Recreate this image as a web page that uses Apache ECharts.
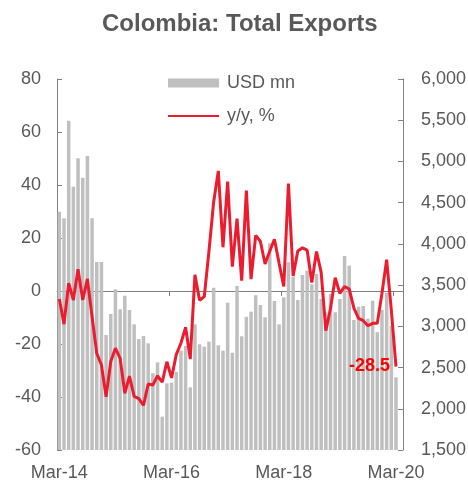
<!DOCTYPE html>
<html>
<head>
<meta charset="utf-8">
<script src="https://cdn.jsdelivr.net/npm/echarts@6/dist/echarts.min.js"></script>
<style>
html,body{margin:0;padding:0;background:#fff;}
#chart{width:468px;height:480px;}
</style>
</head>
<body>
<div id="chart"></div>
<script>
// Monthly categories Mar-14 .. Mar-20 (plus one empty slot at the axis end)
var months = [
 'Mar-14','Apr-14','May-14','Jun-14','Jul-14','Aug-14','Sep-14','Oct-14','Nov-14','Dec-14',
 'Jan-15','Feb-15','Mar-15','Apr-15','May-15','Jun-15','Jul-15','Aug-15','Sep-15','Oct-15','Nov-15','Dec-15',
 'Jan-16','Feb-16','Mar-16','Apr-16','May-16','Jun-16','Jul-16','Aug-16','Sep-16','Oct-16','Nov-16','Dec-16',
 'Jan-17','Feb-17','Mar-17','Apr-17','May-17','Jun-17','Jul-17','Aug-17','Sep-17','Oct-17','Nov-17','Dec-17',
 'Jan-18','Feb-18','Mar-18','Apr-18','May-18','Jun-18','Jul-18','Aug-18','Sep-18','Oct-18','Nov-18','Dec-18',
 'Jan-19','Feb-19','Mar-19','Apr-19','May-19','Jun-19','Jul-19','Aug-19','Sep-19','Oct-19','Nov-19','Dec-19',
 'Jan-20','Feb-20','Mar-20',''
];

// Total exports, USD mn (right axis)
var exportsUsd = [
 4390,4310,5495,4694,5038,4803,5066,4311,3780,3780,
 2895,3150,3449,3207,3372,3198,3024,2846,2883,2794,2430,2563,
 1904,2309,2317,2446,2705,2762,2260,3024,2782,2753,2814,3469,
 2770,2705,3287,2680,3489,2879,3117,3178,3376,3259,3110,4007,
 3307,3024,3352,3777,3602,3320,3623,3675,3510,3635,3332,3170,
 3392,3170,3332,3853,3736,3077,3239,3247,3093,3311,2930,3200,
 3408,3004,2382
];

// y/y change, % (left axis)
var yoyPct = [
 -3,-12.5,3,-3.4,8.2,-3.4,4.6,-9.7,-23.5,-27.9,
 -39.9,-26.6,-21.6,-25.4,-38.6,-32.1,-39.8,-40.6,-43.2,-35.1,-35.5,-32,
 -34.4,-26.7,-32.8,-24,-19.7,-13.7,-25.7,6.1,-3.5,-2.1,15,33.5,
 45.3,16.5,41.3,9.2,27.3,3.9,37.9,4.5,21,18.7,10.2,15,
 19.5,10.5,1.7,40.5,5.7,15.1,16.3,15.4,3.2,14.9,7,-15,
 -6.5,5,-0.9,1.7,0.7,-6.5,-10.3,-11.2,-13.1,-12.2,-12.2,-0.9,
 11.8,-7.1,-28.5
];

var leftTicks = {min: -60, max: 80, step: 20};
var rightTicks = {min: 1500, max: 6000, step: 500};

var FONT = "'Liberation Sans', Arial, sans-serif";
var GREY_TXT = '#595959';
var AXIS_COL = '#808080';
var RED = '#ec1c2e';
var lastIdx = yoyPct.length - 1;

var chart = echarts.init(document.getElementById('chart'), null, {renderer: 'canvas'});
chart.setOption({
  animation: false,
  backgroundColor: '#ffffff',
  title: {
    text: 'Colombia: Total Exports',
    left: 97, top: 7,
    textStyle: {fontFamily: FONT, fontSize: 24, fontWeight: 'bold', color: GREY_TXT}
  },
  legend: {
    orient: 'vertical',
    left: 167, top: 74, padding: 0,
    itemWidth: 51, itemHeight: 9, itemGap: 15,
    data: [
      {name: 'USD mn', icon: 'rect'},
      {name: 'y/y, %', itemStyle: {color: 'rgba(0,0,0,0)', borderWidth: 0, opacity: 0}}
    ],
    textStyle: {fontFamily: FONT, fontSize: 18, color: GREY_TXT, padding: [0, 0, 0, 3]}
  },
  grid: {left: 57, right: 65, top: 79, bottom: 30, containLabel: false, outerBoundsMode: 'none'},
  xAxis: {
    type: 'category',
    data: months,
    boundaryGap: true,
    axisLine: {lineStyle: {color: AXIS_COL, width: 1}},
    axisTick: {show: true, interval: 23, length: 5, lineStyle: {color: AXIS_COL}},
    axisLabel: {interval: 23, fontFamily: FONT, fontSize: 18, color: GREY_TXT, margin: 14},
    splitLine: {show: false}
  },
  yAxis: [
    {
      type: 'value', position: 'left',
      min: leftTicks.min, max: leftTicks.max, interval: leftTicks.step,
      axisLine: {show: true, lineStyle: {color: AXIS_COL}},
      axisTick: {show: true, inside: true, length: 5, lineStyle: {color: AXIS_COL}},
      axisLabel: {fontFamily: FONT, fontSize: 18, color: GREY_TXT, margin: 16},
      splitLine: {show: false}
    },
    {
      type: 'value', position: 'right',
      min: rightTicks.min, max: rightTicks.max, interval: rightTicks.step,
      axisLine: {show: true, lineStyle: {color: AXIS_COL}},
      axisTick: {show: true, inside: true, length: 5, lineStyle: {color: AXIS_COL}},
      axisLabel: {
        fontFamily: FONT, fontSize: 18, color: GREY_TXT, margin: 18,
        formatter: function (v) { return v.toLocaleString('en-US'); }
      },
      splitLine: {show: false}
    }
  ],
  series: [
    {
      name: 'USD mn', type: 'bar', yAxisIndex: 1,
      data: exportsUsd,
      barWidth: 3.5,
      itemStyle: {color: '#bfbfbf'},
      z: 1
    },
    {
      name: 'y/y, %', type: 'line', yAxisIndex: 0,
      data: yoyPct,
      symbol: 'none',
      lineStyle: {color: RED, width: 3},
      itemStyle: {color: RED},
      z: 3,
      markPoint: {
        symbol: 'circle', symbolSize: 0,
        data: [{coord: [lastIdx, yoyPct[lastIdx]], value: yoyPct[lastIdx]}],
        label: {
          show: true, position: 'left', distance: 6,
          fontFamily: FONT, fontSize: 18, fontWeight: 'bold', color: '#ff0000',
          formatter: function (p) { return String(p.value); }
        }
      }
    }
  ]
});
</script>
</body>
</html>
